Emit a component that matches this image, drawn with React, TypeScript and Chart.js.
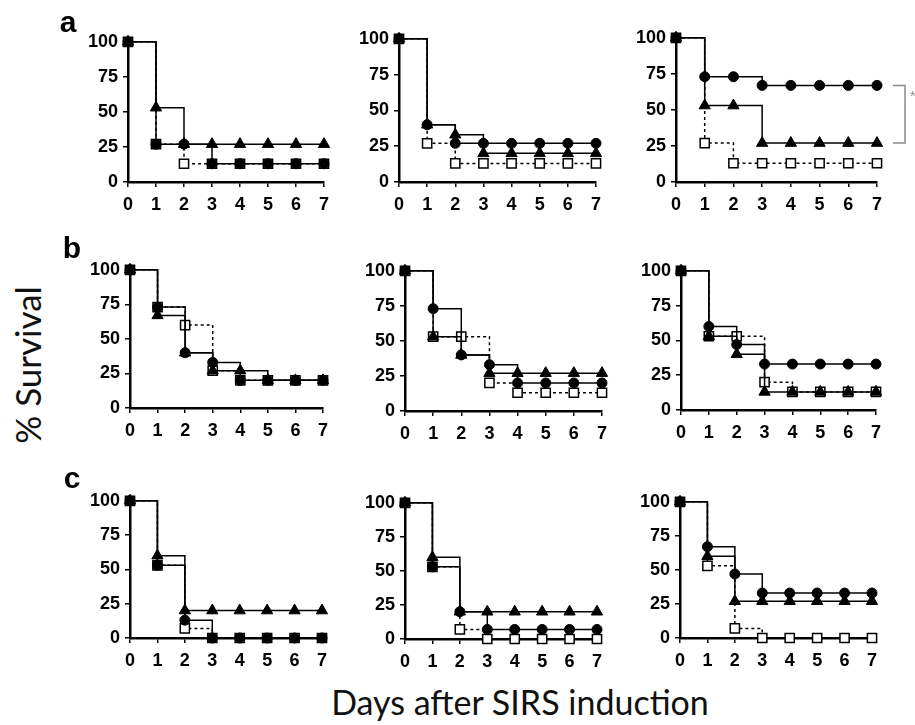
import React, { useEffect, useRef } from 'react';
import { Chart, registerables } from 'chart.js';

Chart.register(...registerables);

// ---- data ----
const days = [0, 1, 2, 3, 4, 5, 6, 7];
const yTickValues = [0, 25, 50, 75, 100];
const panelLetters = ['a', 'b', 'c'];
const yTitle = '% Survival';
const xTitle = 'Days after SIRS induction';

// row a
const a1Circle = [100, 27, 27, 13, 13, 13, 13, 13];
const a1Triangle = [100, 53, 27, 27, 27, 27, 27, 27];
const a1Square = [100, 27, 13, 13, 13, 13, 13, 13];

const a2Circle = [100, 40, 27, 27, 27, 27, 27, 27];
const a2Triangle = [100, 40, 33, 20, 20, 20, 20, 20];
const a2Square = [100, 27, 13, 13, 13, 13, 13, 13];

const a3Circle = [100, 73, 73, 67, 67, 67, 67, 67];
const a3Triangle = [100, 53, 53, 27, 27, 27, 27, 27];
const a3Square = [100, 27, 13, 13, 13, 13, 13, 13];
const a3BracketFrom = 67;
const a3BracketTo = 27;
const a3BracketMark = '*';

// row b
const b1Circle = [100, 73, 40, 33, 20, 20, 20, 20];
const b1Triangle = [100, 67, 40, 27, 27, 20, 20, 20];
const b1Square = [100, 73, 60, 27, 20, 20, 20, 20];

const b2Circle = [100, 73, 40, 33, 20, 20, 20, 20];
const b2Triangle = [100, 53, 40, 27, 27, 27, 27, 27];
const b2Square = [100, 53, 53, 20, 13, 13, 13, 13];

const b3Circle = [100, 60, 47, 33, 33, 33, 33, 33];
const b3Triangle = [100, 53, 40, 13, 13, 13, 13, 13];
const b3Square = [100, 53, 53, 20, 13, 13, 13, 13];

// row c
const c1Circle = [100, 53, 13, 0, 0, 0, 0, 0];
const c1Triangle = [100, 60, 20, 20, 20, 20, 20, 20];
const c1Square = [100, 53, 7, 0, 0, 0, 0, 0];

const c2Circle = [100, 53, 20, 7, 7, 7, 7, 7];
const c2Triangle = [100, 60, 20, 20, 20, 20, 20, 20];
const c2Square = [100, 53, 7, 0, 0, 0, 0, 0];

const c3Circle = [100, 67, 47, 33, 33, 33, 33, 33];
const c3Triangle = [100, 60, 27, 27, 27, 27, 27, 27];
const c3Square = [100, 53, 7, 0, 0, 0, 0, 0];

// ---- layout (page pixel positions of each plot area) ----
const YW = 62; // y-axis box width
const XH = 38; // x-axis box height
const PT = 12; // top padding

type PanelDef = {
  circle: number[];
  triangle: number[];
  square: number[];
  x0: number;
  x7: number;
  y100: number;
  y0: number;
  bracket?: boolean;
};

const panels: PanelDef[] = [
  { circle: a1Circle, triangle: a1Triangle, square: a1Square, x0: 128, x7: 324, y100: 38, y0: 182 },
  { circle: a2Circle, triangle: a2Triangle, square: a2Square, x0: 399, x7: 596, y100: 35, y0: 182 },
  { circle: a3Circle, triangle: a3Triangle, square: a3Square, x0: 676, x7: 877, y100: 34, y0: 182, bracket: true },
  { circle: b1Circle, triangle: b1Triangle, square: b1Square, x0: 130, x7: 323, y100: 266, y0: 408 },
  { circle: b2Circle, triangle: b2Triangle, square: b2Square, x0: 405, x7: 602, y100: 267, y0: 411 },
  { circle: b3Circle, triangle: b3Triangle, square: b3Square, x0: 681, x7: 876, y100: 267, y0: 410 },
  { circle: c1Circle, triangle: c1Triangle, square: c1Square, x0: 130, x7: 322, y100: 497, y0: 638 },
  { circle: c2Circle, triangle: c2Triangle, square: c2Square, x0: 405, x7: 597, y100: 499, y0: 639 },
  { circle: c3Circle, triangle: c3Triangle, square: c3Square, x0: 680, x7: 872, y100: 498, y0: 638 },
];

const tickFont = { family: '"Liberation Sans", Arial, sans-serif', weight: 'bold' as const, size: 18 };

const bracketPlugin = {
  id: 'bracket',
  afterDraw(chart: any) {
    const { ctx, chartArea, scales } = chart;
    const y = scales.y;
    const ya = y.getPixelForValue(a3BracketFrom);
    const yb = y.getPixelForValue(a3BracketTo);
    const x1 = chartArea.right + 16;
    const x2 = chartArea.right + 28;
    ctx.save();
    ctx.strokeStyle = '#8a8a8a';
    ctx.lineWidth = 1.5;
    ctx.beginPath();
    ctx.moveTo(x1, ya);
    ctx.lineTo(x2, ya);
    ctx.lineTo(x2, yb);
    ctx.lineTo(x1, yb);
    ctx.stroke();
    ctx.fillStyle = '#8a8a8a';
    ctx.font = '14px "Liberation Sans", Arial, sans-serif';
    ctx.textAlign = 'left';
    ctx.textBaseline = 'middle';
    ctx.fillText(a3BracketMark, x2 + 5, ya + 12);
    ctx.restore();
  },
};

function Panel({ def }: { def: PanelDef }) {
  const ref = useRef<HTMLCanvasElement>(null);
  const padRight = def.bracket ? 915 - def.x7 : 12;
  const left = def.x0 - YW;
  const top = def.y100 - PT;
  const width = def.x7 - def.x0 + YW + padRight;
  const height = def.y0 - def.y100 + PT + XH;

  useEffect(() => {
    if (!ref.current) return;
    const pts = (v: number[]) => days.map((d, i) => ({ x: d, y: v[i] }));
    const base = {
      stepped: 'before' as const,
      borderColor: '#000',
      borderWidth: 1.5,
      fill: false,
      clip: false as any,
      pointBorderColor: '#000',
    };
    const chart = new Chart(ref.current, {
      type: 'line',
      data: {
        datasets: [
          {
            ...base,
            data: pts(def.circle),
            pointStyle: 'circle',
            pointRadius: 5,
            pointBackgroundColor: '#000',
            pointBorderWidth: 1,
          },
          {
            ...base,
            data: pts(def.triangle),
            pointStyle: 'triangle',
            pointRadius: 6.5,
            pointBackgroundColor: '#000',
            pointBorderWidth: 1,
          },
          {
            ...base,
            data: pts(def.square),
            borderDash: [3, 3],
            pointStyle: 'rect',
            pointRadius: 6.5,
            pointBackgroundColor: '#fff',
            pointBorderWidth: 1.5,
          },
        ],
      },
      options: {
        responsive: false,
        maintainAspectRatio: false,
        animation: false,
        events: [],
        layout: { padding: { top: PT, right: padRight, left: 0, bottom: 0 } },
        plugins: { legend: { display: false }, tooltip: { enabled: false } },
        scales: {
          x: {
            type: 'linear',
            min: 0,
            max: 7,
            afterBuildTicks: (s: any) => {
              s.ticks = days.map((d) => ({ value: d }));
            },
            afterFit: (s: any) => {
              s.height = XH;
            },
            ticks: { color: '#000', font: tickFont, padding: 7, maxRotation: 0, autoSkip: false },
            grid: { display: true, drawOnChartArea: false, drawTicks: true, tickLength: 5, color: '#000', lineWidth: 1.5 },
            border: { display: true, color: '#000', width: 2.5 },
          },
          y: {
            type: 'linear',
            min: 0,
            max: 100,
            afterBuildTicks: (s: any) => {
              s.ticks = yTickValues.map((v) => ({ value: v }));
            },
            afterFit: (s: any) => {
              s.width = YW;
            },
            ticks: { color: '#000', font: tickFont, padding: 5 },
            grid: { display: true, drawOnChartArea: false, drawTicks: true, tickLength: 5, color: '#000', lineWidth: 1.5 },
            border: { display: true, color: '#000', width: 2.5 },
          },
        },
      },
      plugins: def.bracket ? [bracketPlugin] : [],
    });
    return () => chart.destroy();
  }, []);

  return (
    <canvas
      ref={ref}
      width={width}
      height={height}
      style={{ position: 'absolute', left, top, width, height }}
    />
  );
}

const letterPos = [
  { x: 68, y: 22 },
  { x: 72, y: 248 },
  { x: 72, y: 478 },
];

export default function App() {
  return (
    <div style={{ position: 'absolute', left: 0, top: 0, width: 915, height: 725, background: '#fff', overflow: 'hidden' }}>
      {panels.map((p, i) => (
        <Panel key={i} def={p} />
      ))}
      {panelLetters.map((l, i) => (
        <div
          key={l}
          style={{
            position: 'absolute',
            left: letterPos[i].x,
            top: letterPos[i].y,
            transform: 'translate(-50%, -50%)',
            font: 'bold 30px "Liberation Sans", Arial, sans-serif',
            lineHeight: '30px',
            color: '#000',
          }}
        >
          {l}
        </div>
      ))}
      <div
        style={{
          position: 'absolute',
          left: 27,
          top: 365,
          transform: 'translate(-50%, -50%) rotate(-90deg)',
          font: '35px Lato, "Open Sans", sans-serif',
          lineHeight: '35px',
          whiteSpace: 'nowrap',
          color: '#111',
        }}
      >
        {yTitle}
      </div>
      <div
        style={{
          position: 'absolute',
          left: 520,
          top: 702,
          transform: 'translate(-50%, -50%)',
          font: '34px Lato, "Open Sans", sans-serif',
          lineHeight: '34px',
          whiteSpace: 'nowrap',
          color: '#111',
        }}
      >
        {xTitle}
      </div>
    </div>
  );
}
